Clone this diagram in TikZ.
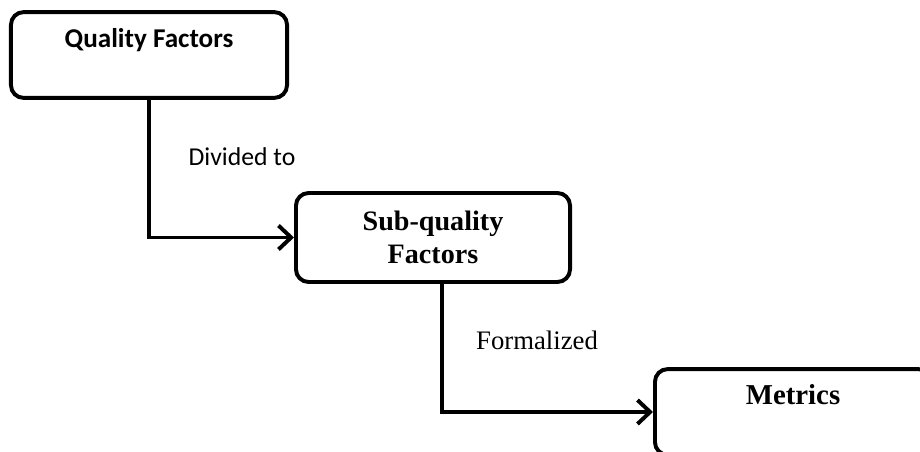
\documentclass[tikz,border=0pt]{standalone}
\usepackage{fontspec}
\setmainfont{Liberation Serif}
\newfontfamily\calibri{Carlito}
\usetikzlibrary{shapes}
\usetikzlibrary{positioning}
\usetikzlibrary{arrows.meta}
\tikzset{
    stagebox/.style = {rectangle, rounded corners=9pt, line width=2.8pt, draw=black, minimum width=6.9cm, inner sep=0pt, text height=25pt, text depth=36pt},
    stageboxc/.style = {rectangle, rounded corners=9pt, line width=2.8pt, draw=black, minimum width=6.85cm, minimum height=2.225cm, align=center},
    edgef/.style = {-{Straight Barb[length=9pt,width=17pt,line width=2.8pt]}, line width=2.8pt},
    edgel/.style = {draw=none, font=\fontsize{19}{23}\selectfont}
}
\begin{document}
\begin{tikzpicture}[x=0.025cm, y=-0.025cm]
\useasboundingbox (0,0) rectangle (920,452);
%
\node[stagebox, font=\calibri\bfseries\fontsize{19.3}{23}\selectfont] at (149,55) (qf) {Quality Factors};
\node[stageboxc, font=\bfseries\fontsize{20}{23}\selectfont] at (433,237.5) (sqf) {Sub-quality\\Factors};
\node[stagebox, font=\bfseries\fontsize{20.5}{24}\selectfont] at (793,412) (met) {Metrics};
\node[edgel, font=\calibri\fontsize{18.3}{22}\selectfont] at (242,157) (div) {Divided to};
\node[edgel] at (537,340) (form) {Formalized};
%
\draw[edgef] (qf.south) |- (sqf.west);
\draw[edgef] ([xshift=0.225cm]sqf.south) |- (met.west);
\end{tikzpicture}
\end{document}
